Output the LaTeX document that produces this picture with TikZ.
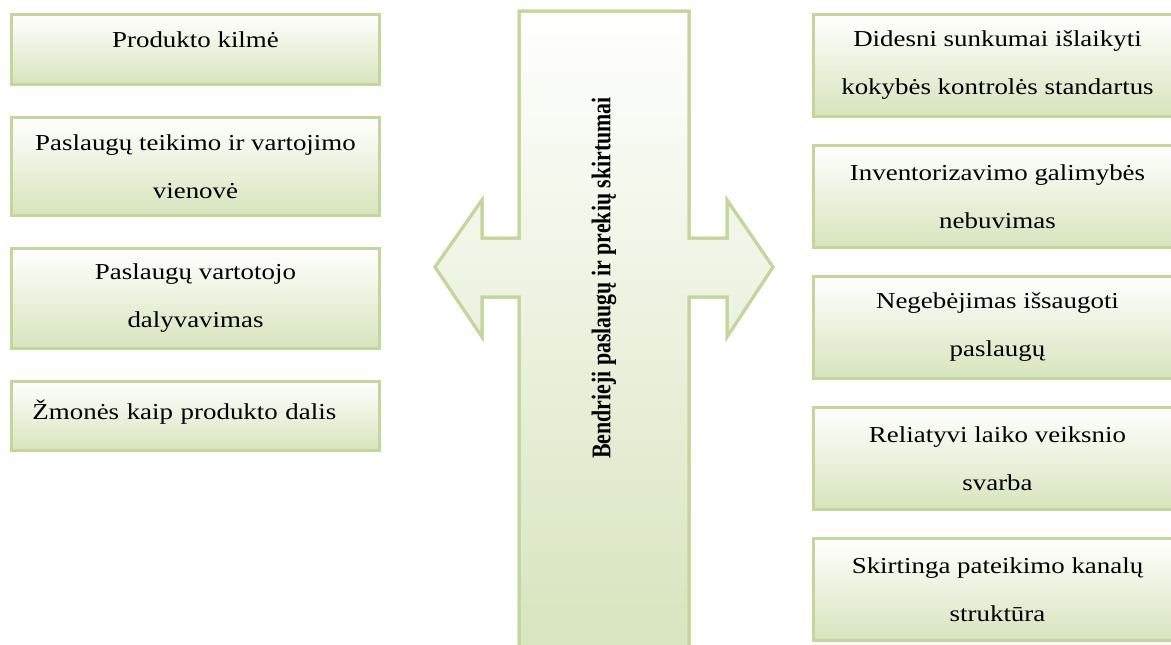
\documentclass[tikz,border=0pt]{standalone}
\usepackage{fontspec}
\setmainfont{Liberation Serif}
\newfontfamily\widefont[FakeStretch=1.18]{Liberation Serif}
\newfontfamily\narrowfont[FakeStretch=0.81]{Liberation Serif}
\usepackage{tikz}
\usetikzlibrary{positioning}

\definecolor{boxline}{RGB}{195,214,155}
\definecolor{boxfill}{RGB}{215,228,189}

\begin{document}
\begin{tikzpicture}[
  x=0.5pt, y=-0.5pt,
  node distance=15pt,
  box/.style={draw=boxline, line width=1.5pt, top color=white, bottom color=boxfill, minimum width=184pt, inner sep=0pt, align=center, font=\widefont\fontsize{11.4}{24}\selectfont},
  hub/.style={draw=boxline, line width=1.5pt, top color=white, bottom color=boxfill}
]
  \useasboundingbox (0,0) rectangle (1171,644);

  % centre bar with the two arrow heads
  \shade[hub] (519,11) -- (689,11) -- (689,238) -- (727,238) -- (727,200) -- (773,267)
    -- (727,337) -- (727,297) -- (689,297) -- (689,660) -- (519,660) -- (519,297)
    -- (482,297) -- (482,337) -- (435,267) -- (482,200) -- (482,238) -- (519,238) -- cycle;
  \draw[boxline, line width=1.5pt] (519,660) -- (519,297) -- (482,297) -- (482,337) -- (435,267)
    -- (482,200) -- (482,238) -- (519,238) -- (519,11) -- (689,11) -- (689,238) -- (727,238)
    -- (727,200) -- (773,267) -- (727,337) -- (727,297) -- (689,297) -- (689,660);
  \node[rotate=90, font=\narrowfont\fontsize{13.5}{15}\selectfont\bfseries] (title) at (604,278) {Bendrieji paslaugų ir prekių skirtumai};

  % left column
  \node[box, minimum height=35pt, text depth=10pt, anchor=north west] (kilme) at (10,13) {Produkto kilmė};
  \node[box, minimum height=49pt, below=of kilme] (vienove) {Paslaugų teikimo ir vartojimo\\vienovė};
  \node[box, minimum height=50pt, below=of vienove] (dalyv) {Paslaugų vartotojo\\dalyvavimas};
  \node[box, minimum height=34.5pt, text depth=6pt, below=of dalyv, align=left, text width=163pt] (zmones) {Žmonės kaip produkto dalis};

  % right column
  \begin{scope}[node distance=13pt]
    \node[box, minimum height=51pt, anchor=north west] (kokybe) at (812,13) {Didesni sunkumai išlaikyti\\kokybės kontrolės standartus};
    \node[box, minimum height=51pt, below=of kokybe] (invent) {Inventorizavimo galimybės\\nebuvimas};
    \node[box, minimum height=51pt, below=of invent] (issaug) {Negebėjimas išsaugoti\\paslaugų};
    \node[box, minimum height=51pt, below=of issaug] (laikas) {Reliatyvi laiko veiksnio\\svarba};
    \node[box, minimum height=51pt, below=of laikas] (kanalai) {Skirtinga pateikimo kanalų\\struktūra};
  \end{scope}
\end{tikzpicture}
\end{document}
